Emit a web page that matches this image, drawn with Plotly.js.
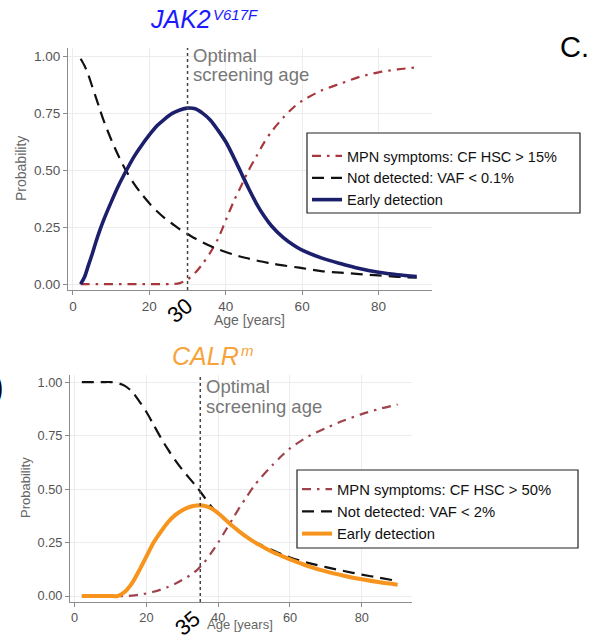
<!DOCTYPE html>
<html><head><meta charset="utf-8">
<script src="https://cdn.plot.ly/plotly-3.0.1.min.js"></script>
<style>html,body{margin:0;padding:0;background:#fff;} #chart{width:591px;height:638px;}</style>
</head><body><div id="chart"></div>
<script>
// ---------- data ----------
const ages = [2,3,4,5,6,7,8,10,12,14,16,18,20,22,24,26,28,30,32,34,36,38,40,42,44,46,48,50,52,55,58,60,65,70,75,80,85,90];

// JAK2 V617F panel
const jakSymptoms    = [0,0,0,0,0,0,0,0,0,0,0,0,0,0,0,0,0.004,0.02,0.05,0.09,0.14,0.2,0.28,0.36,0.43,0.5,0.56,0.62,0.67,0.73,0.78,0.805,0.85,0.88,0.91,0.93,0.943,0.952];
const jakNotDetected = [0.99,0.96,0.92,0.87,0.82,0.77,0.72,0.635,0.56,0.495,0.44,0.395,0.355,0.32,0.29,0.265,0.24,0.22,0.2,0.183,0.167,0.153,0.141,0.13,0.12,0.112,0.104,0.097,0.09,0.082,0.075,0.07,0.057,0.05,0.044,0.038,0.032,0.028];
const jakEarly       = [0,0.03,0.08,0.13,0.185,0.235,0.28,0.36,0.435,0.5,0.56,0.61,0.655,0.695,0.725,0.75,0.765,0.773,0.77,0.75,0.72,0.675,0.625,0.56,0.49,0.42,0.355,0.3,0.255,0.205,0.168,0.149,0.115,0.09,0.068,0.052,0.041,0.033];

// CALR panel
const calrSymptoms    = [0,0,0,0,0,0,0,0,0,0,0.002,0.006,0.012,0.02,0.03,0.042,0.057,0.075,0.095,0.12,0.155,0.2,0.25,0.305,0.36,0.415,0.465,0.515,0.555,0.61,0.66,0.69,0.745,0.785,0.82,0.85,0.875,0.895];
const calrNotDetected = [1,1,1,1,1,1,1,1,0.995,0.982,0.955,0.91,0.86,0.8,0.74,0.685,0.635,0.59,0.55,0.51,0.465,0.42,0.385,0.355,0.325,0.3,0.275,0.255,0.238,0.215,0.193,0.18,0.155,0.135,0.117,0.1,0.085,0.07];
const calrEarly       = [0,0,0,0,0,0,0,0,0,0.02,0.06,0.12,0.185,0.25,0.3,0.345,0.378,0.401,0.416,0.423,0.422,0.41,0.387,0.357,0.327,0.3,0.275,0.253,0.234,0.207,0.185,0.171,0.14,0.115,0.095,0.078,0.064,0.053];

const xTicks = [0,20,40,60,80];
const yTicks = [0,0.25,0.5,0.75,1];
const yTickText = ['0.00','0.25','0.50','0.75','1.00'];
const jakLabels  = ['MPN symptoms: CF HSC &gt; 15%','Not detected: VAF &lt; 0.1%','Early detection'];
const calrLabels = ['MPN symptoms: CF HSC &gt; 50%','Not detected: VAF &lt; 2%','Early detection'];
const jakOptimalAge = 30;
const calrOptimalAge = 35;

// ---------- styling ----------
const W = 591, H = 638;
const FONT = 'Liberation Sans, Arial, Helvetica, sans-serif';
const px = v => v / W;
const py = v => 1 - v / H;
const RED = '#a8383c', RED2 = '#a0424c', NAVY = '#1c1f6b', ORANGE = '#f7941d';
const DASHDOT = '9px,6px,2.5px,6px';
const DASH = '12px,7px';

function tr(x, y, name, color, width, dash, xa, ya, leg) {
  return {x: x, y: y, name: name, type: 'scatter', mode: 'lines',
    line: {color: color, width: width, dash: dash, shape: 'spline', smoothing: 0.8},
    xaxis: xa, yaxis: ya, legend: leg, hoverinfo: 'skip'};
}

const data = [
  tr(ages, jakSymptoms, jakLabels[0], RED, 2.2, DASHDOT, 'x', 'y', 'legend'),
  tr(ages, jakNotDetected, jakLabels[1], '#111', 2.2, DASH, 'x', 'y', 'legend'),
  tr(ages, jakEarly, jakLabels[2], NAVY, 3.6, 'solid', 'x', 'y', 'legend'),
  tr(ages, calrSymptoms, calrLabels[0], RED2, 2.2, DASHDOT, 'x2', 'y2', 'legend2'),
  tr(ages, calrNotDetected, calrLabels[1], '#111', 2.2, DASH, 'x2', 'y2', 'legend2'),
  tr(ages, calrEarly, calrLabels[2], ORANGE, 4, 'solid', 'x2', 'y2', 'legend2')
];

function axis(extra, fs) {
  return Object.assign({
    showgrid: true, gridcolor: '#ececec', gridwidth: 1, zeroline: false,
    showline: true, linecolor: '#8c8c8c', linewidth: 1,
    ticks: 'outside', ticklen: 4, tickcolor: '#8c8c8c', tickwidth: 1,
    tickfont: {family: FONT, size: fs, color: '#555'}, fixedrange: true
  }, extra);
}

function ann(text, x, y, opts) {
  return Object.assign({text: text, x: px(x), y: py(y), xref: 'paper', yref: 'paper',
    showarrow: false, xanchor: 'center', yanchor: 'middle'}, opts || {});
}
const f = (size, color, extra) => Object.assign({family: FONT, size: size, color: color}, extra || {});

const layout = {
  width: W, height: H,
  margin: {l: 0, r: 0, t: 0, b: 0},
  paper_bgcolor: '#fff', plot_bgcolor: '#fff',
  font: {family: FONT, color: '#555'},
  showlegend: true,
  xaxis: axis({domain: [px(68), px(432)], range: [-1.3, 94], anchor: 'y', tickvals: xTicks}, 13.5),
  yaxis: axis({domain: [py(290), py(48)], range: [-0.026, 1.037], anchor: 'x', tickvals: yTicks, ticktext: yTickText}, 13.5),
  xaxis2: axis({domain: [px(70), px(412)], range: [-1.3, 94], anchor: 'y2', tickvals: xTicks}, 12.8),
  yaxis2: axis({domain: [py(602), py(375)], range: [-0.028, 1.033], anchor: 'x2', tickvals: yTicks, ticktext: yTickText}, 12.8),
  legend: {x: px(307), xanchor: 'left', y: py(140), yanchor: 'top', bgcolor: 'rgba(0,0,0,0)', borderwidth: 0,
    font: f(14.5, '#111'), traceorder: 'normal'},
  legend2: {x: px(297), xanchor: 'left', y: py(473), yanchor: 'top', bgcolor: 'rgba(0,0,0,0)', borderwidth: 0,
    font: f(14.8, '#111'), traceorder: 'normal'},
  shapes: [
    {type: 'line', xref: 'x', yref: 'y domain', x0: jakOptimalAge, x1: jakOptimalAge, y0: 0, y1: 1,
      line: {color: '#444', width: 1.5, dash: 'dot'}, layer: 'above'},
    {type: 'line', xref: 'x2', yref: 'y2 domain', x0: calrOptimalAge, x1: calrOptimalAge, y0: 0, y1: 1,
      line: {color: '#444', width: 1.5, dash: 'dot'}, layer: 'above'},
    {type: 'rect', xref: 'paper', yref: 'paper', x0: px(307), x1: px(580), y0: py(213), y1: py(133),
      line: {color: '#222', width: 1.2}, fillcolor: '#fff', layer: 'above'},
    {type: 'rect', xref: 'paper', yref: 'paper', x0: px(297), x1: px(578), y0: py(548), y1: py(470),
      line: {color: '#222', width: 1.2}, fillcolor: '#fff', layer: 'above'}
  ],
  annotations: [
    ann('<i>JAK2</i>', 213, 19, {xanchor: 'right', font: f(25, '#1a1aff')}),
    ann('<i>V617F</i>', 211, 15, {xanchor: 'left', font: f(15, '#1a1aff')}),
    ann('<i>CALR</i>', 241, 356, {xanchor: 'right', font: f(25, '#f7a33c')}),
    ann('<i>m</i>', 239, 350, {xanchor: 'left', font: f(15, '#f7a33c')}),
    ann('C.', 574, 47, {font: f(29, '#000')}),
    ann('<b>)</b>', 5, 386, {xanchor: 'right', font: f(34, '#000')}),
    ann('Optimal', 191, 55, {xanchor: 'left', font: f(18.5, '#777')}),
    ann('screening age', 191, 74, {xanchor: 'left', font: f(18.5, '#777')}),
    ann('Optimal', 204, 386, {xanchor: 'left', font: f(18.5, '#777')}),
    ann('screening age', 204, 406, {xanchor: 'left', font: f(18.5, '#777')}),
    ann('Age [years]', 249, 320, {font: f(14, '#666')}),
    ann('Age [years]', 240, 624, {font: f(13, '#666')}),
    ann('Probability', 21, 169, {textangle: -90, font: f(14, '#666')}),
    ann('Probability', 25, 488, {textangle: -90, font: f(13, '#666')}),
    ann(String(jakOptimalAge), 180, 311, {textangle: -40, font: f(22, '#000')}),
    ann(String(calrOptimalAge), 187, 623, {textangle: -40, font: f(22, '#000')})
  ]
};

Plotly.newPlot('chart', data, layout, {staticPlot: true, displayModeBar: false});
</script>
</body></html>
